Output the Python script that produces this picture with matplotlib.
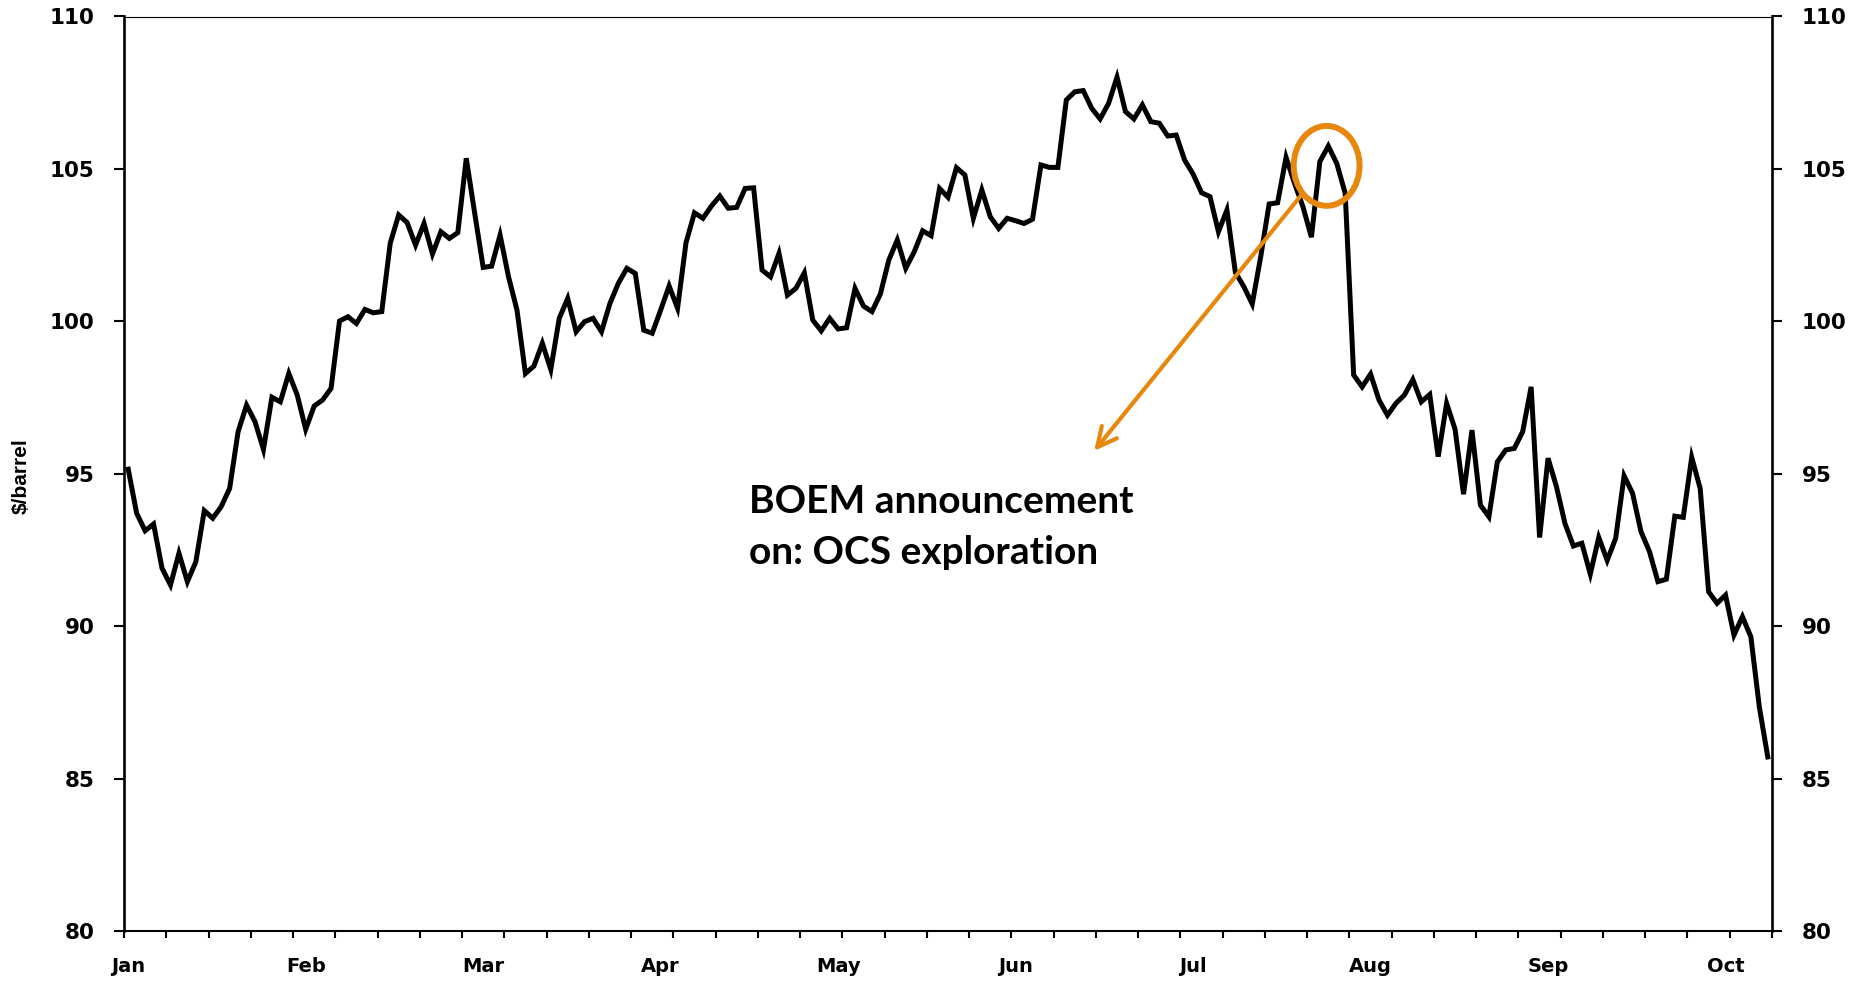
import matplotlib
matplotlib.use("Agg")
import matplotlib.pyplot as plt
from matplotlib.patches import Ellipse

# daily price, $/barrel (trading days, Jan -> mid Oct)
price = [
    95.15, 93.70, 93.13, 93.35, 91.90, 91.35, 92.39, 91.46, 92.11, 93.79,
    93.54, 93.92, 94.52, 96.38, 97.25, 96.71, 95.80, 97.51, 97.36, 98.29,
    97.58, 96.46, 97.22, 97.42, 97.80, 100.01, 100.15, 99.93, 100.39, 100.28,
    100.32, 102.56, 103.49, 103.24, 102.50, 103.21, 102.21, 102.94, 102.72, 102.91,
    105.35, 103.54, 101.77, 101.81, 102.83, 101.46, 100.37, 98.29, 98.53, 99.28,
    98.42, 100.10, 100.75, 99.66, 99.99, 100.10, 99.66, 100.59, 101.25, 101.74,
    101.57, 99.71, 99.61, 100.37, 101.16, 100.43, 102.58, 103.56, 103.38, 103.78,
    104.11, 103.71, 103.74, 104.36, 104.38, 101.68, 101.46, 102.23, 100.86, 101.08,
    101.59, 100.04, 99.69, 100.10, 99.75, 99.79, 101.08, 100.50, 100.32, 100.90,
    102.01, 102.67, 101.74, 102.28, 102.97, 102.81, 104.36, 104.07, 105.04, 104.80,
    103.38, 104.31, 103.43, 103.05, 103.38, 103.30, 103.21, 103.35, 105.13, 105.05,
    105.05, 107.26, 107.53, 107.57, 106.99, 106.64, 107.15, 108.01, 106.88, 106.64,
    107.10, 106.55, 106.50, 106.08, 106.11, 105.29, 104.83, 104.22, 104.09, 102.94,
    103.65, 101.61, 101.14, 100.57, 102.12, 103.85, 103.89, 105.38, 104.53, 103.76,
    102.76, 105.24, 105.75, 105.18, 104.20, 98.24, 97.85, 98.27, 97.42, 96.92,
    97.31, 97.58, 98.09, 97.36, 97.60, 95.56, 97.31, 96.46, 94.33, 96.43,
    93.97, 93.59, 95.39, 95.78, 95.83, 96.38, 97.85, 92.91, 95.51, 94.57,
    93.37, 92.63, 92.72, 91.71, 92.91, 92.16, 92.88, 94.93, 94.36, 93.10,
    92.45, 91.46, 91.54, 93.61, 93.57, 95.54, 94.52, 91.13, 90.75, 91.02,
    89.71, 90.31, 89.65, 87.35, 85.71,
]
months = ["Jan", "Feb", "Mar", "Apr", "May", "Jun", "Jul", "Aug", "Sep", "Oct"]
days_per_label = 21
days_per_tick = 5
y_ticks = [80, 85, 90, 95, 100, 105, 110]

event_day = 141.8      # BOEM announcement (circled peak)
event_price = 105.1
note = "BOEM announcement\non: OCS exploration"

orange = "#E8870E"

fig = plt.figure(figsize=(18.74, 9.84), dpi=100)
ax = fig.add_axes([124 / 1874, 1 - 931 / 984, 1648 / 1874, 914.5 / 984])

x = list(range(len(price)))
ax.plot(x, price, color="black", linewidth=3.6, solid_joinstyle="miter")

ax.set_xlim(-0.5, len(price) - 0.5)
ax.set_ylim(80, 110)

# tick marks every 5 days, month labels every 21 days
ax.set_xticks([t - 0.5 for t in range(0, len(price) + 1, days_per_tick)])
ax.set_xticklabels([])
ax.set_xticks([k * days_per_label for k in range(len(months))], minor=True)
ax.set_xticklabels(months, minor=True, fontsize=14, fontweight="bold")
ax.tick_params(axis="x", which="major", direction="out", length=5, width=1.5)
ax.tick_params(axis="x", which="minor", length=0, pad=19)

ax.set_yticks(y_ticks)
ax.set_yticklabels([str(v) for v in y_ticks], fontsize=15.5, fontweight="bold")
ax.tick_params(axis="y", direction="out", length=7.2, width=1.5, pad=14,
               left=True, right=True, labelleft=True, labelright=True)

for side in ["left", "right"]:
    ax.spines[side].set_linewidth(1.9)
ax.spines["bottom"].set_linewidth(1.5)
ax.spines["top"].set_linewidth(0.8)

fig.text(21 / 1874, 1 - 476 / 984, "$/barrel", rotation=90, ha="center", va="center",
         fontsize=15, fontweight="bold", family=["Liberation Sans Narrow", "Liberation Sans"])

# annotation: circle, arrow and note
ax.add_patch(Ellipse((event_day, event_price), 7.8, 2.62, fill=False,
                     edgecolor=orange, linewidth=4.3, zorder=5))
ax.annotate("", xy=(114.3, 95.75), xytext=(138.8, 104.14),
            arrowprops=dict(arrowstyle="->,head_length=0.7,head_width=0.35",
                            mutation_scale=20, lw=3, color=orange,
                            shrinkA=0, shrinkB=0), zorder=4)
ax.text(73.4, 94.66, note, ha="left", va="top", fontsize=28, fontweight="bold",
        family=["Lato", "DejaVu Sans"], linespacing=1.55)

fig.savefig("out.png", dpi=100)
